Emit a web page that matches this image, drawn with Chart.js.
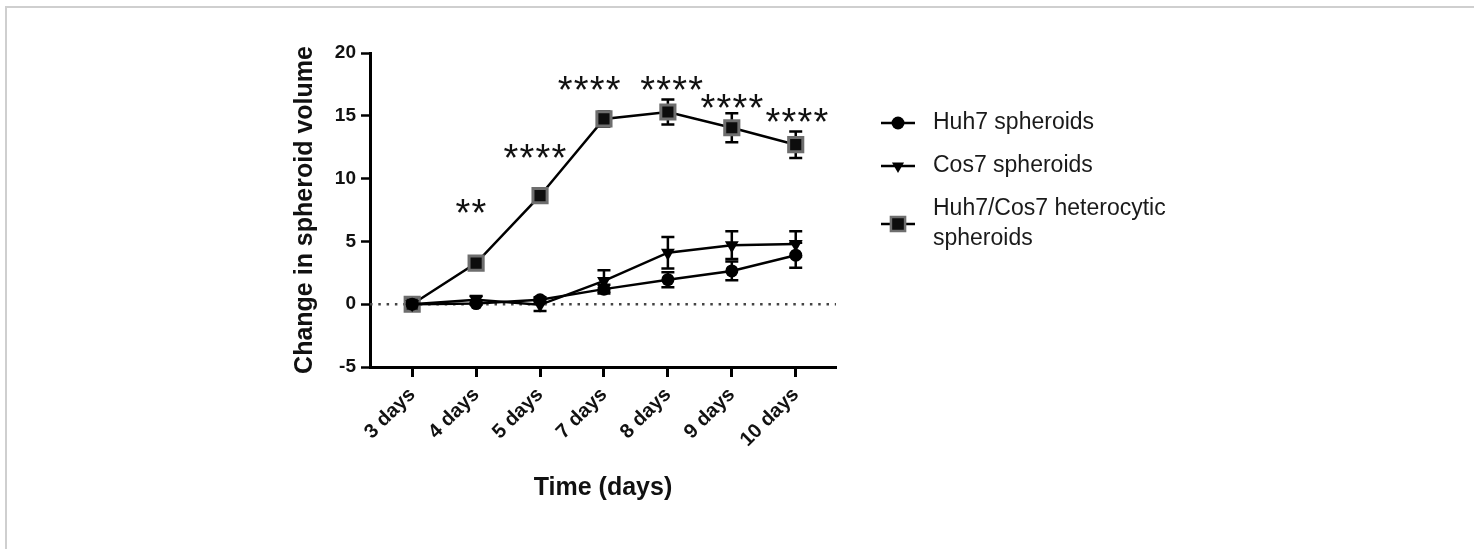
<!DOCTYPE html>
<html>
<head>
<meta charset="utf-8">
<script src="https://cdn.jsdelivr.net/npm/chart.js@4/dist/chart.umd.min.js"></script>
<style>
  html, body { margin: 0; padding: 0; background: #fff; overflow: hidden; }
  #wrap { position: relative; width: 1474px; height: 549px; }
  #frame { position: absolute; left: 5px; top: 6px; width: 1480px; height: 560px;
           border-top: 2px solid #cfcfcf; border-left: 2px solid #cfcfcf; }
  canvas { position: absolute; left: 0; top: 0; }
</style>
</head>
<body>
<div id="wrap">
  <div id="frame"></div>
  <canvas id="chart" width="1474" height="549"></canvas>
</div>
<script>
const categories = ['3 days', '4 days', '5 days', '7 days', '8 days', '9 days', '10 days'];

const huh7Values = [0, 0.05, 0.35, 1.2, 1.95, 2.65, 3.9];
const huh7Errors = [0.1, 0.1, 0.2, 0.35, 0.6, 0.75, 1.0];

const cos7Values = [0, 0.35, -0.05, 1.85, 4.1, 4.7, 4.8];
const cos7Errors = [0.1, 0.3, 0.5, 0.85, 1.25, 1.1, 1.0];

const heteroValues = [0, 3.27, 8.64, 14.75, 15.3, 14.05, 12.7];
const heteroErrors = [0.1, 0.2, 0.2, 0.6, 1.0, 1.15, 1.05];

// significance marks: text, position along the category axis, height in data units
const starLabels = ['**', '****', '****', '****', '****', '****'];
const starX = [0.92, 1.92, 2.77, 4.06, 5.0, 6.02];
const starHeights = [7.8, 12.2, 17.6, 17.6, 16.2, 15.1];

const yTicks = [-5, 0, 5, 10, 15, 20];

const FONT = "'Liberation Sans', Arial, sans-serif";
const X_MIN = -0.66, X_MAX = 6.63;

const toPoints = vals => vals.map((v, i) => ({ x: i, y: v }));

// whiskers under the lines
const errorBarPlugin = {
  id: 'errorBars',
  beforeDatasetsDraw(chart) {
    const ctx = chart.ctx;
    const xs = chart.scales.x, ys = chart.scales.y;
    ctx.save();
    ctx.strokeStyle = '#000';
    ctx.lineWidth = 2.5;
    chart.data.datasets.forEach(ds => {
      if (!ds.errors) return;
      ds.data.forEach((p, i) => {
        const e = ds.errors[i];
        const px = xs.getPixelForValue(p.x);
        const top = ys.getPixelForValue(p.y + e);
        const bot = ys.getPixelForValue(p.y - e);
        ctx.beginPath();
        ctx.moveTo(px, top); ctx.lineTo(px, bot);
        ctx.moveTo(px - 6.5, top); ctx.lineTo(px + 6.5, top);
        ctx.moveTo(px - 6.5, bot); ctx.lineTo(px + 6.5, bot);
        ctx.stroke();
      });
    });
    ctx.restore();
  }
};

// significance stars + legend
const annotationPlugin = {
  id: 'annotations',
  afterDraw(chart) {
    const ctx = chart.ctx;
    const xs = chart.scales.x, ys = chart.scales.y;
    ctx.save();
    ctx.fillStyle = '#111';
    ctx.font = '38px ' + FONT;
    ctx.textAlign = 'center';
    ctx.textBaseline = 'alphabetic';
    const m = ctx.measureText('*');
    const mid = (m.actualBoundingBoxAscent - m.actualBoundingBoxDescent) / 2;
    const step = 16;
    starLabels.forEach((s, i) => {
      const cx = xs.getPixelForValue(starX[i]);
      const cy = ys.getPixelForValue(starHeights[i]) + mid;
      for (let k = 0; k < s.length; k++) {
        ctx.fillText('*', cx + (k - (s.length - 1) / 2) * step, cy);
      }
    });

    // legend
    const items = chart.data.datasets.filter(d => d.legendRows);
    const lx = 898;
    ctx.textAlign = 'left';
    ctx.textBaseline = 'middle';
    ctx.font = '23px ' + FONT;
    items.forEach(ds => {
      const rows = ds.legendRows;
      const y = rows.markerY;
      ctx.strokeStyle = '#000';
      ctx.lineWidth = 2.5;
      ctx.beginPath();
      ctx.moveTo(lx - 17, y); ctx.lineTo(lx + 17, y);
      ctx.stroke();
      ctx.fillStyle = ds.pointBackgroundColor;
      ctx.strokeStyle = ds.pointBorderColor;
      Chart.helpers.drawPoint(ctx, {
        pointStyle: ds.pointStyle,
        rotation: ds.pointRotation || 0,
        radius: ds.legendRadius,
        borderWidth: ds.pointBorderWidth
      }, lx, y);
      ctx.fillStyle = '#1a1a1a';
      rows.lines.forEach((t, j) => ctx.fillText(t, 933, rows.textY[j]));
    });
    ctx.restore();
  }
};

new Chart(document.getElementById('chart').getContext('2d'), {
  type: 'line',
  data: {
    datasets: [
      {
        label: 'Huh7 spheroids',
        data: toPoints(huh7Values),
        errors: huh7Errors,
        borderColor: '#000',
        borderWidth: 2.5,
        pointStyle: 'circle',
        pointRadius: 6.5,
        legendRadius: 6.5,
        pointBackgroundColor: '#000',
        pointBorderColor: '#000',
        pointBorderWidth: 0,
        legendRows: { markerY: 123, lines: ['Huh7 spheroids'], textY: [123] }
      },
      {
        label: 'Cos7 spheroids',
        data: toPoints(cos7Values),
        errors: cos7Errors,
        borderColor: '#000',
        borderWidth: 2.5,
        pointStyle: 'triangle',
        pointRotation: 180,
        pointRadius: 8,
        legendRadius: 7,
        pointBackgroundColor: '#000',
        pointBorderColor: '#000',
        pointBorderWidth: 0,
        legendRows: { markerY: 166, lines: ['Cos7 spheroids'], textY: [166] }
      },
      {
        label: 'Huh7/Cos7 heterocytic spheroids',
        data: toPoints(heteroValues),
        errors: heteroErrors,
        borderColor: '#000',
        borderWidth: 2.5,
        pointStyle: 'rect',
        pointRadius: 10,
        legendRadius: 10,
        pointBackgroundColor: '#0d0d0d',
        pointBorderColor: '#6e6e6e',
        pointBorderWidth: 3,
        legendRows: { markerY: 224, lines: ['Huh7/Cos7 heterocytic', 'spheroids'], textY: [209, 239] }
      },
      {
        label: 'zero',
        data: [{ x: X_MIN, y: 0 }, { x: X_MAX, y: 0 }],
        borderColor: '#444',
        borderWidth: 2.5,
        borderDash: [2.5, 5.8],
        pointRadius: 0,
        order: 10
      }
    ]
  },
  options: {
    responsive: false,
    animation: false,
    layout: { padding: { top: 53, right: 1474 - 836, bottom: 0, left: 0 } },
    plugins: {
      legend: { display: false },
      tooltip: { enabled: false }
    },
    scales: {
      x: {
        type: 'linear',
        min: X_MIN,
        max: X_MAX,
        afterFit: s => { s.height = 182; },
        border: { display: true, color: '#000', width: 3 },
        grid: { display: true, drawOnChartArea: false, drawTicks: true, tickLength: 10, tickWidth: 3, tickColor: '#000' },
        ticks: {
          stepSize: 1,
          includeBounds: false,
          autoSkip: false,
          maxRotation: 45,
          minRotation: 45,
          padding: 6,
          color: '#111',
          font: { family: FONT, size: 20, weight: 'bold' },
          callback: v => categories[v] || ''
        },
        title: {
          display: true,
          text: 'Time (days)',
          color: '#111',
          font: { family: FONT, size: 25, weight: 'bold' },
          padding: { top: 0, bottom: 46 }
        }
      },
      y: {
        min: -5,
        max: 20,
        afterFit: s => { s.width = 370; },
        afterBuildTicks: s => { s.ticks = yTicks.map(v => ({ value: v })); },
        border: { display: true, color: '#000', width: 3 },
        grid: { display: true, drawOnChartArea: false, drawTicks: true, tickLength: 9, tickWidth: 2.5, tickColor: '#000' },
        ticks: {
          padding: 5,
          color: '#111',
          font: { family: FONT, size: 19, weight: 'bold' }
        },
        title: {
          display: true,
          text: 'Change in spheroid volume',
          color: '#111',
          font: { family: FONT, size: 25, weight: 'bold' },
          padding: { top: 290, bottom: 0 }
        }
      }
    }
  },
  plugins: [errorBarPlugin, annotationPlugin]
});
</script>
</body>
</html>
